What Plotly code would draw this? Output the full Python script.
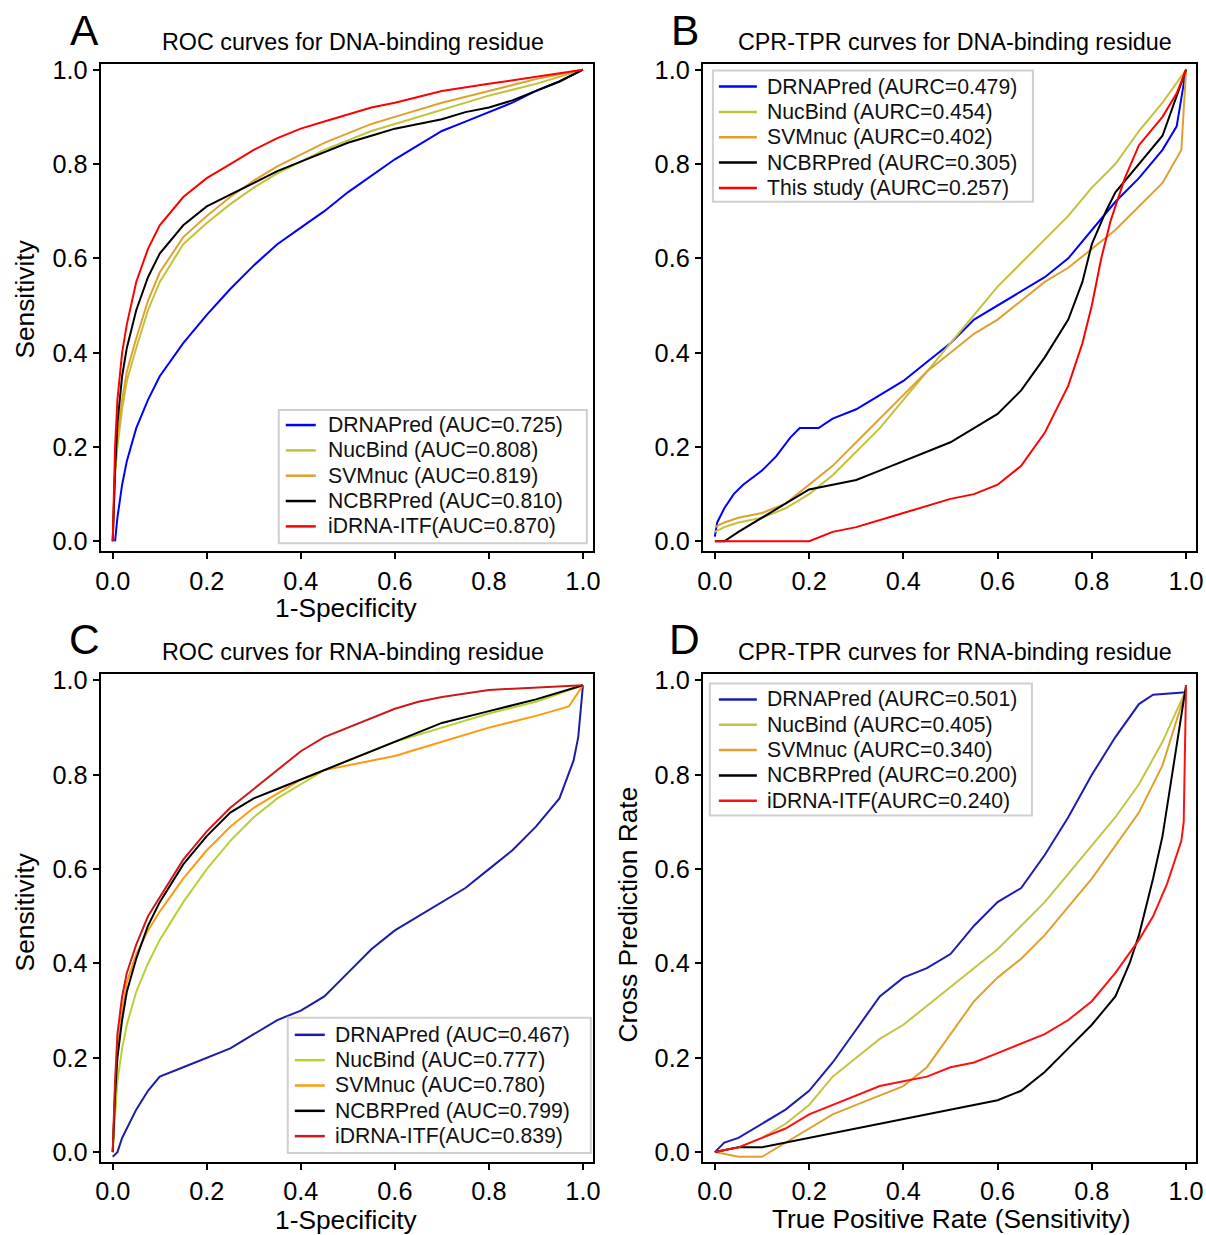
import plotly.graph_objects as go

# ---------------- data ----------------
ticks = [0.0, 0.2, 0.4, 0.6, 0.8, 1.0]
tick_text = ["0.0", "0.2", "0.4", "0.6", "0.8", "1.0"]

legend_A = ["DRNAPred (AUC=0.725)", "NucBind (AUC=0.808)", "SVMnuc (AUC=0.819)",
            "NCBRPred (AUC=0.810)", "iDRNA-ITF(AUC=0.870)"]
legend_B = ["DRNAPred (AURC=0.479)", "NucBind (AURC=0.454)", "SVMnuc (AURC=0.402)",
            "NCBRPred (AURC=0.305)", "This study (AURC=0.257)"]
legend_C = ["DRNAPred (AUC=0.467)", "NucBind (AUC=0.777)", "SVMnuc (AUC=0.780)",
            "NCBRPred (AUC=0.799)", "iDRNA-ITF(AUC=0.839)"]
legend_D = ["DRNAPred (AURC=0.501)", "NucBind (AURC=0.405)", "SVMnuc (AURC=0.340)",
            "NCBRPred (AURC=0.200)", "iDRNA-ITF(AURC=0.240)"]

# Panel A: ROC DNA
A_blue_x = [0.005, 0.01, 0.02, 0.03, 0.05, 0.075, 0.1, 0.15, 0.2, 0.25, 0.3, 0.35, 0.4, 0.45, 0.5, 0.55, 0.6, 0.65, 0.7, 0.75, 0.8, 0.85, 0.9, 0.95, 1.0]
A_blue_y = [0.0, 0.05, 0.12, 0.17, 0.24, 0.30, 0.35, 0.42, 0.48, 0.535, 0.585, 0.63, 0.665, 0.70, 0.74, 0.775, 0.81, 0.84, 0.87, 0.89, 0.91, 0.93, 0.955, 0.975, 1.0]
A_yel_x = [0.0, 0.005, 0.01, 0.02, 0.03, 0.05, 0.075, 0.1, 0.15, 0.2, 0.25, 0.3, 0.35, 0.4, 0.45, 0.5, 0.55, 0.6, 0.7, 0.8, 0.9, 1.0]
A_yel_y = [0.0, 0.14, 0.20, 0.28, 0.34, 0.41, 0.49, 0.55, 0.63, 0.675, 0.715, 0.75, 0.78, 0.805, 0.83, 0.85, 0.87, 0.885, 0.915, 0.945, 0.97, 1.0]
A_org_x = [0.0, 0.005, 0.01, 0.02, 0.03, 0.05, 0.075, 0.1, 0.15, 0.2, 0.25, 0.3, 0.35, 0.4, 0.45, 0.5, 0.55, 0.6, 0.7, 0.8, 0.9, 1.0]
A_org_y = [0.0, 0.15, 0.22, 0.30, 0.36, 0.43, 0.51, 0.57, 0.645, 0.69, 0.73, 0.765, 0.795, 0.82, 0.845, 0.865, 0.885, 0.90, 0.93, 0.955, 0.98, 1.0]
A_blk_x = [0.0, 0.005, 0.01, 0.02, 0.03, 0.05, 0.075, 0.1, 0.15, 0.2, 0.25, 0.3, 0.35, 0.4, 0.45, 0.5, 0.55, 0.6, 0.65, 0.7, 0.75, 0.8, 0.85, 0.9, 0.95, 1.0]
A_blk_y = [0.0, 0.15, 0.25, 0.35, 0.41, 0.49, 0.56, 0.61, 0.67, 0.71, 0.735, 0.76, 0.785, 0.805, 0.825, 0.845, 0.86, 0.875, 0.885, 0.895, 0.91, 0.92, 0.935, 0.955, 0.975, 1.0]
A_red_x = [0.0, 0.005, 0.01, 0.02, 0.03, 0.05, 0.075, 0.1, 0.15, 0.2, 0.25, 0.3, 0.35, 0.4, 0.45, 0.5, 0.55, 0.6, 0.7, 0.8, 0.9, 1.0]
A_red_y = [0.0, 0.20, 0.30, 0.40, 0.46, 0.55, 0.62, 0.67, 0.73, 0.77, 0.80, 0.83, 0.855, 0.875, 0.89, 0.905, 0.92, 0.93, 0.955, 0.97, 0.985, 1.0]

# Panel B: CPR-TPR DNA
B_blue_x = [0.0, 0.005, 0.02, 0.04, 0.06, 0.1, 0.13, 0.16, 0.18, 0.22, 0.25, 0.3, 0.35, 0.4, 0.45, 0.5, 0.55, 0.6, 0.65, 0.7, 0.75, 0.8, 0.85, 0.9, 0.95, 0.98, 1.0]
B_blue_y = [0.01, 0.04, 0.07, 0.10, 0.12, 0.15, 0.18, 0.22, 0.24, 0.24, 0.26, 0.28, 0.31, 0.34, 0.38, 0.42, 0.47, 0.50, 0.53, 0.56, 0.60, 0.66, 0.72, 0.77, 0.83, 0.88, 1.0]
B_yel_x = [0.0, 0.02, 0.05, 0.1, 0.15, 0.2, 0.25, 0.3, 0.35, 0.4, 0.45, 0.5, 0.55, 0.6, 0.65, 0.7, 0.75, 0.8, 0.85, 0.9, 0.95, 1.0]
B_yel_y = [0.02, 0.03, 0.04, 0.05, 0.07, 0.10, 0.14, 0.19, 0.24, 0.30, 0.36, 0.42, 0.48, 0.54, 0.59, 0.64, 0.69, 0.75, 0.80, 0.87, 0.93, 1.0]
B_org_x = [0.0, 0.02, 0.05, 0.1, 0.15, 0.2, 0.25, 0.3, 0.35, 0.4, 0.45, 0.5, 0.55, 0.6, 0.65, 0.7, 0.75, 0.8, 0.85, 0.9, 0.95, 0.99, 1.0]
B_org_y = [0.03, 0.04, 0.05, 0.06, 0.08, 0.12, 0.16, 0.21, 0.26, 0.31, 0.36, 0.40, 0.44, 0.47, 0.51, 0.55, 0.58, 0.62, 0.66, 0.71, 0.76, 0.83, 1.0]
B_blk_x = [0.0, 0.02, 0.05, 0.1, 0.15, 0.2, 0.25, 0.3, 0.35, 0.4, 0.45, 0.5, 0.55, 0.6, 0.65, 0.7, 0.75, 0.78, 0.8, 0.83, 0.85, 0.9, 0.95, 1.0]
B_blk_y = [0.0, 0.0, 0.02, 0.05, 0.08, 0.11, 0.12, 0.13, 0.15, 0.17, 0.19, 0.21, 0.24, 0.27, 0.32, 0.39, 0.47, 0.55, 0.63, 0.70, 0.74, 0.80, 0.86, 1.0]
B_red_x = [0.0, 0.1, 0.2, 0.25, 0.3, 0.4, 0.5, 0.55, 0.6, 0.65, 0.7, 0.75, 0.78, 0.8, 0.82, 0.84, 0.87, 0.9, 0.95, 0.98, 1.0]
B_red_y = [0.0, 0.0, 0.0, 0.02, 0.03, 0.06, 0.09, 0.10, 0.12, 0.16, 0.23, 0.33, 0.42, 0.50, 0.60, 0.68, 0.77, 0.84, 0.90, 0.95, 1.0]

# Panel C: ROC RNA
C_blue_x = [0.0, 0.01, 0.02, 0.03, 0.05, 0.075, 0.1, 0.15, 0.2, 0.25, 0.3, 0.35, 0.4, 0.45, 0.5, 0.55, 0.6, 0.65, 0.7, 0.75, 0.8, 0.85, 0.9, 0.95, 0.98, 0.99, 1.0]
C_blue_y = [-0.01, 0.0, 0.03, 0.05, 0.09, 0.13, 0.16, 0.18, 0.20, 0.22, 0.25, 0.28, 0.30, 0.33, 0.38, 0.43, 0.47, 0.50, 0.53, 0.56, 0.60, 0.64, 0.69, 0.75, 0.83, 0.88, 0.99]
C_yel_x = [0.0, 0.01, 0.02, 0.03, 0.05, 0.075, 0.1, 0.15, 0.2, 0.25, 0.3, 0.35, 0.4, 0.45, 0.5, 0.55, 0.6, 0.7, 0.8, 0.9, 1.0]
C_yel_y = [0.0, 0.15, 0.22, 0.27, 0.34, 0.40, 0.45, 0.53, 0.60, 0.66, 0.71, 0.75, 0.78, 0.81, 0.83, 0.85, 0.87, 0.90, 0.93, 0.955, 0.99]
C_org_x = [0.0, 0.005, 0.01, 0.02, 0.03, 0.05, 0.075, 0.1, 0.15, 0.2, 0.25, 0.3, 0.35, 0.4, 0.45, 0.5, 0.55, 0.6, 0.7, 0.8, 0.9, 0.97, 1.0]
C_org_y = [0.0, 0.14, 0.22, 0.30, 0.36, 0.42, 0.47, 0.51, 0.58, 0.64, 0.69, 0.73, 0.76, 0.79, 0.81, 0.82, 0.83, 0.84, 0.87, 0.90, 0.925, 0.945, 0.99]
C_blk_x = [0.0, 0.005, 0.01, 0.02, 0.03, 0.05, 0.075, 0.1, 0.15, 0.2, 0.25, 0.3, 0.35, 0.4, 0.45, 0.5, 0.55, 0.6, 0.65, 0.7, 0.8, 0.9, 1.0]
C_blk_y = [0.0, 0.12, 0.20, 0.28, 0.34, 0.41, 0.48, 0.53, 0.61, 0.67, 0.72, 0.75, 0.77, 0.79, 0.81, 0.83, 0.85, 0.87, 0.89, 0.91, 0.935, 0.96, 0.99]
C_red_x = [0.0, 0.005, 0.01, 0.02, 0.03, 0.05, 0.075, 0.1, 0.125, 0.15, 0.2, 0.25, 0.3, 0.35, 0.4, 0.45, 0.5, 0.55, 0.6, 0.65, 0.7, 0.8, 0.9, 1.0]
C_red_y = [0.0, 0.15, 0.25, 0.33, 0.38, 0.44, 0.50, 0.54, 0.58, 0.62, 0.68, 0.73, 0.77, 0.81, 0.85, 0.88, 0.90, 0.92, 0.94, 0.955, 0.965, 0.98, 0.985, 0.99]

# Panel D: CPR-TPR RNA
D_blue_x = [0.0, 0.02, 0.05, 0.1, 0.15, 0.2, 0.25, 0.3, 0.35, 0.4, 0.45, 0.5, 0.55, 0.6, 0.65, 0.7, 0.75, 0.8, 0.85, 0.9, 0.93, 1.0]
D_blue_y = [0.0, 0.02, 0.03, 0.06, 0.09, 0.13, 0.19, 0.26, 0.33, 0.37, 0.39, 0.42, 0.48, 0.53, 0.56, 0.63, 0.71, 0.80, 0.88, 0.95, 0.97, 0.975]
D_yel_x = [0.0, 0.05, 0.1, 0.15, 0.2, 0.25, 0.3, 0.35, 0.4, 0.45, 0.5, 0.55, 0.6, 0.65, 0.7, 0.75, 0.8, 0.85, 0.9, 0.95, 1.0]
D_yel_y = [0.0, 0.01, 0.03, 0.06, 0.10, 0.16, 0.20, 0.24, 0.27, 0.31, 0.35, 0.39, 0.43, 0.48, 0.53, 0.59, 0.65, 0.71, 0.78, 0.87, 0.98]
D_org_x = [0.0, 0.05, 0.1, 0.15, 0.2, 0.25, 0.3, 0.35, 0.4, 0.45, 0.5, 0.55, 0.6, 0.65, 0.7, 0.75, 0.8, 0.85, 0.9, 0.95, 1.0]
D_org_y = [0.0, -0.01, -0.01, 0.02, 0.05, 0.08, 0.10, 0.12, 0.14, 0.18, 0.25, 0.32, 0.37, 0.41, 0.46, 0.52, 0.58, 0.65, 0.72, 0.82, 0.98]
D_blk_x = [0.0, 0.05, 0.1, 0.2, 0.3, 0.4, 0.5, 0.55, 0.6, 0.65, 0.7, 0.75, 0.8, 0.85, 0.88, 0.9, 0.93, 0.95, 0.97, 1.0]
D_blk_y = [0.0, 0.01, 0.01, 0.03, 0.05, 0.07, 0.09, 0.10, 0.11, 0.13, 0.17, 0.22, 0.27, 0.33, 0.40, 0.46, 0.58, 0.67, 0.80, 0.99]
D_red_x = [0.0, 0.05, 0.1, 0.15, 0.2, 0.25, 0.3, 0.35, 0.4, 0.45, 0.5, 0.55, 0.6, 0.65, 0.7, 0.75, 0.8, 0.85, 0.9, 0.93, 0.96, 0.99, 0.995, 1.0]
D_red_y = [0.0, 0.01, 0.03, 0.05, 0.08, 0.10, 0.12, 0.14, 0.15, 0.16, 0.18, 0.19, 0.21, 0.23, 0.25, 0.28, 0.32, 0.38, 0.45, 0.50, 0.57, 0.66, 0.70, 0.99]

colors_AB = ["#0000ff", "#c2c23a", "#e0a030", "#000000", "#ff0000"]
colors_C = ["#1c1caa", "#b4d232", "#ff9a10", "#000000", "#d01818"]
colors_D = ["#1c1cb4", "#c4c444", "#e0a030", "#000000", "#ff1010"]

# ---------------- layout geometry ----------------
W, H = 1206, 1235
FONT = "Liberation Sans, Arial, sans-serif"
# small correction between layout pixels and the photographed page
SX, OX, OY = 0.989, 5.3, 9.5


def px_x(p):
    return ((p - OX) / SX) / W


def px_y(p):
    return 1 - ((p - OY) / SX) / H


def fs(s):
    return round(s / SX, 1)


panels = [
    # axes ids, x domain px, y domain px, legend box (left, top, right, bottom), line x0, x1, text x, first row y
    ("x", "y", (101, 593), (65, 552), (279, 411, 587, 544), (286, 316, 326, 426)),
    ("x2", "y2", (703, 1196), (65, 552), (713, 72, 1033, 203), (719, 757, 765, 88)),
    ("x3", "y3", (101, 593), (675, 1162), (288, 1018, 591, 1153), (295, 325, 333, 1035)),
    ("x4", "y4", (703, 1196), (675, 1162), (710, 684, 1032, 816), (719, 757, 765, 700)),
]
ROW = 25.3

series = [
    ([(A_blue_x, A_blue_y), (A_yel_x, A_yel_y), (A_org_x, A_org_y), (A_blk_x, A_blk_y), (A_red_x, A_red_y)], legend_A, colors_AB),
    ([(B_blue_x, B_blue_y), (B_yel_x, B_yel_y), (B_org_x, B_org_y), (B_blk_x, B_blk_y), (B_red_x, B_red_y)], legend_B, colors_AB),
    ([(C_blue_x, C_blue_y), (C_yel_x, C_yel_y), (C_org_x, C_org_y), (C_blk_x, C_blk_y), (C_red_x, C_red_y)], legend_C, colors_C),
    ([(D_blue_x, D_blue_y), (D_yel_x, D_yel_y), (D_org_x, D_org_y), (D_blk_x, D_blk_y), (D_red_x, D_red_y)], legend_D, colors_D),
]

fig = go.Figure()
layout = dict(
    width=W, height=H, margin=dict(l=0, r=0, t=0, b=0),
    paper_bgcolor="white", plot_bgcolor="white",
    font=dict(family=FONT, color="black"),
    showlegend=False,
)
annotations = []
shapes = []

for (xa, ya, xd, yd, box, lg), (curves, labels, cols) in zip(panels, series):
    for (xs, ys), lab, col in zip(curves, labels, cols):
        fig.add_trace(go.Scatter(x=xs, y=ys, mode="lines", name=lab,
                                 line=dict(color=col, width=2),
                                 xaxis=xa, yaxis=ya))
    xkey = "xaxis" + xa[1:]
    ykey = "yaxis" + ya[1:]
    common = dict(showgrid=False, zeroline=False, showline=True, mirror=True,
                  linecolor="black", linewidth=2, ticks="outside", ticklen=6,
                  tickwidth=2, tickcolor="black", tickvals=ticks, ticktext=tick_text,
                  tickfont=dict(size=fs(25), family=FONT, color="black"))
    layout[xkey] = dict(common, domain=[px_x(xd[0]), px_x(xd[1])], range=[-0.0255, 1.021],
                        anchor=ya)
    layout[ykey] = dict(common, domain=[px_y(yd[1]), px_y(yd[0])], range=[-0.021, 1.013],
                        anchor=xa)
    shapes.append(dict(type="rect", xref="paper", yref="paper",
                       x0=px_x(box[0]), x1=px_x(box[2]), y0=px_y(box[3]), y1=px_y(box[1]),
                       line=dict(color="#cfcfcf", width=2), fillcolor="white", layer="above"))
    for i, (lab, col) in enumerate(zip(labels, cols)):
        yy = lg[3] + i * ROW
        shapes.append(dict(type="line", xref="paper", yref="paper",
                           x0=px_x(lg[0]), x1=px_x(lg[1]), y0=px_y(yy), y1=px_y(yy),
                           line=dict(color=col, width=2.5), layer="above"))
        annotations.append(dict(text=lab, x=px_x(lg[2]), y=px_y(yy), xref="paper", yref="paper",
                                showarrow=False, xanchor="left", yanchor="middle",
                                font=dict(size=fs(21), family=FONT, color="#111111")))


def add_text(text, xp, yp, size, angle=0):
    annotations.append(dict(text=text, x=px_x(xp), y=px_y(yp), xref="paper", yref="paper",
                            showarrow=False, xanchor="center", yanchor="middle",
                            textangle=angle, font=dict(size=fs(size), family=FONT, color="black")))

add_text("A", 85, 32, 42)
add_text("B", 685, 32, 42)
add_text("C", 85, 640, 42)
add_text("D", 685, 640, 42)
add_text("ROC curves for DNA-binding residue", 353, 43, 23)
add_text("CPR-TPR curves for DNA-binding residue", 955, 43, 23)
add_text("ROC curves for RNA-binding residue", 353, 653, 23)
add_text("CPR-TPR curves for RNA-binding residue", 955, 653, 23)
add_text("1-Specificity", 347, 609, 26)
add_text("1-Specificity", 347, 1220, 26)
add_text("Sensitivity", 25, 300, 26, -90)
add_text("Sensitivity", 25, 912, 26, -90)
add_text("Cross Prediction Rate", 628, 915, 26, -90)
add_text("True Positive Rate (Sensitivity)", 952, 1219, 26)

layout["annotations"] = annotations
layout["shapes"] = shapes
fig.update_layout(**layout)

post = (
    "var de=document.documentElement, b=document.body;"
    "de.style.margin='0';de.style.padding='0';de.style.overflow='hidden';"
    "b.style.margin='0';b.style.padding='0';b.style.overflow='hidden';"
    "b.style.width='1206px';b.style.height='1235px';"
    "var g=document.getElementById('{plot_id}');"
    "g.style.position='absolute';g.style.left='0px';g.style.top='0px';"
    "window.scrollTo(0,0);"
)
fig.write_html("out.html", config={"displayModeBar": False}, post_script=post)
